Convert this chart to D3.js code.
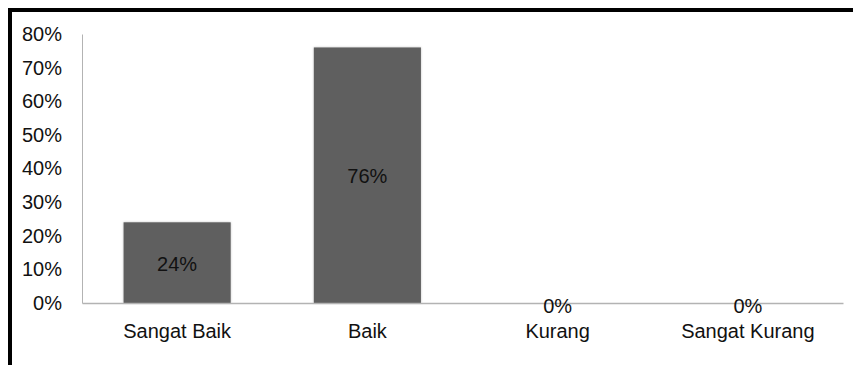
<!DOCTYPE html>
<html>
<head>
<meta charset="utf-8">
<script src="https://cdn.jsdelivr.net/npm/d3@7"></script>
<style>
  body { margin: 0; background: #fff; }
  svg { display: block; font-family: "Liberation Sans", Arial, sans-serif; }
</style>
</head>
<body>
<svg width="853" height="365"></svg>
<script>
const categories = ["Sangat Baik", "Baik", "Kurang", "Sangat Kurang"];
const values = [24, 76, 0, 0];
const yTicks = [0, 10, 20, 30, 40, 50, 60, 70, 80];

const svg = d3.select("svg");
const margin = { top: 34, right: 10, bottom: 62, left: 82 };
const width = 843 - margin.left;
const height = 303 - margin.top;
const fs = 20;

// frame lines (top and left only)
svg.append("rect").attr("x", 8).attr("y", 8).attr("width", 845).attr("height", 4).attr("fill", "#000");
svg.append("rect").attr("x", 8).attr("y", 8).attr("width", 4).attr("height", 357).attr("fill", "#000");

const defs = svg.append("defs");
const f = defs.append("filter").attr("id", "sh").attr("x", "-10%").attr("y", "-10%").attr("width", "120%").attr("height", "120%");
f.append("feDropShadow").attr("dx", 0).attr("dy", 0).attr("stdDeviation", 1.2)
  .attr("flood-color", "#000").attr("flood-opacity", 0.25);

const g = svg.append("g").attr("transform", `translate(${margin.left},${margin.top})`);

const x = d3.scaleBand().domain(categories).range([0, width]).paddingInner(0.437).paddingOuter(0.2185);
const y = d3.scaleLinear().domain([0, 80]).range([height, 0]);

// y axis
const yAxis = g.append("g").call(d3.axisLeft(y).tickValues(yTicks).tickSize(0).tickPadding(20)
  .tickFormat(d => d + "%"));
yAxis.select(".domain").attr("stroke", "#b3b3b3").attr("stroke-width", 1);
yAxis.selectAll("text").attr("font-size", fs).attr("fill", "#111").attr("font-family", "Liberation Sans, Arial, sans-serif");

// bars
g.selectAll("rect.bar").data(values).enter().append("rect")
  .attr("class", "bar")
  .attr("x", (d, i) => x(categories[i]))
  .attr("y", d => y(d))
  .attr("width", x.bandwidth())
  .attr("height", d => height - y(d))
  .attr("fill", "#5f5f5f")
  .attr("filter", "url(#sh)");

// x axis
const xAxis = g.append("g").attr("transform", `translate(0,${height})`)
  .call(d3.axisBottom(x).tickSize(0).tickPadding(21));
xAxis.select(".domain").attr("stroke", "#b3b3b3").attr("stroke-width", 1.5);
xAxis.selectAll("text").attr("font-size", fs).attr("fill", "#111").attr("font-family", "Liberation Sans, Arial, sans-serif");

// data labels
g.selectAll("text.lbl").data(values).enter().append("text")
  .attr("class", "lbl")
  .attr("x", (d, i) => x(categories[i]) + x.bandwidth() / 2)
  .attr("y", d => d > 0 ? (y(d) + height) / 2 + 8 : height + 10)
  .attr("text-anchor", "middle")
  .attr("font-size", fs)
  .attr("fill", "#111")
  .text(d => d + "%");
</script>
</body>
</html>
